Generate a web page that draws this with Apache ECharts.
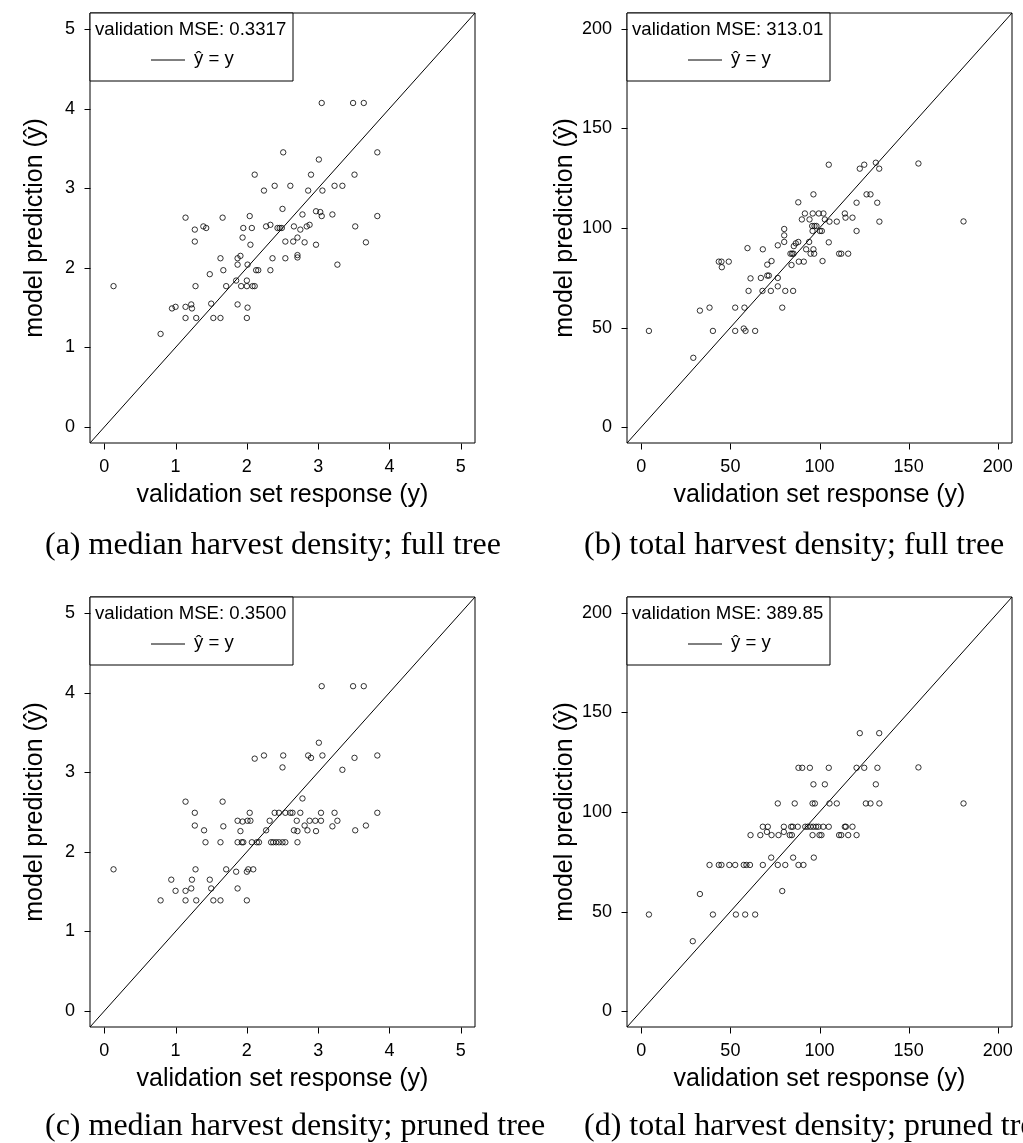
<!DOCTYPE html>
<html>
<head>
<meta charset="utf-8">
<script src="https://cdn.jsdelivr.net/npm/echarts@6/dist/echarts.min.js"></script>
<style>
  html, body { margin: 0; padding: 0; background: #fff; }
  #chart { width: 1023px; height: 1143px; }
</style>
</head>
<body>
<div id="chart"></div>
<script>
// Validation-set predictions of the regression trees: [observed y, predicted ŷ]
const medianFullPts = [
  [2.11, 3.17], [1.14, 2.63], [1.66, 2.63], [2.04, 2.65],
  [1.27, 2.48], [1.39, 2.52], [1.43, 2.50], [1.95, 2.50], [2.07, 2.50],
  [1.27, 2.33], [1.94, 2.38], [2.05, 2.29],
  [1.63, 2.12], [1.87, 2.12], [1.91, 2.15],
  [1.67, 1.97], [1.87, 2.04], [2.01, 2.04],
  [1.48, 1.92], [2.13, 1.97], [2.16, 1.97],
  [0.13, 1.77], [1.28, 1.77], [1.71, 1.77], [1.85, 1.84], [2.00, 1.84],
  [1.92, 1.77], [2.00, 1.77], [2.08, 1.77], [2.11, 1.77],
  [0.95, 1.49], [1.00, 1.51], [1.14, 1.51], [1.22, 1.54], [1.23, 1.49],
  [1.50, 1.55], [1.87, 1.54], [2.01, 1.50],
  [1.14, 1.37], [1.29, 1.37], [1.53, 1.37], [1.63, 1.37], [2.00, 1.37],
  [0.79, 1.17],
  [3.05, 4.07], [3.49, 4.07], [3.64, 4.07],
  [2.51, 3.45], [3.83, 3.45], [3.01, 3.36],
  [2.90, 3.17], [3.51, 3.17],
  [2.24, 2.97], [2.39, 3.03], [2.61, 3.03], [2.86, 2.97], [3.06, 2.97], [3.23, 3.03], [3.34, 3.03],
  [2.50, 2.74], [2.78, 2.67], [2.97, 2.71], [3.03, 2.70], [3.05, 2.65], [3.20, 2.67], [3.83, 2.65],
  [2.27, 2.52], [2.33, 2.54], [2.43, 2.50], [2.46, 2.50], [2.49, 2.50], [2.66, 2.52],
  [2.75, 2.48], [2.84, 2.52], [2.88, 2.54], [3.52, 2.52],
  [2.54, 2.33], [2.65, 2.33], [2.71, 2.38], [2.81, 2.32], [2.97, 2.29], [3.67, 2.32],
  [2.36, 2.12], [2.54, 2.12], [2.71, 2.16], [2.71, 2.13],
  [2.33, 1.97], [3.27, 2.04]
];

const totalFullPts = [
  [4.3, 48.3], [29.2, 34.8], [32.9, 58.5], [38.3, 60.0], [40.2, 48.3],
  [43.5, 83.1], [45.0, 83.1], [45.2, 80.3], [49.1, 83.1],
  [52.7, 60.0], [57.9, 60.0],
  [52.7, 48.3], [57.5, 49.5], [58.5, 48.3], [63.9, 48.3],
  [59.6, 89.9], [61.3, 74.7], [60.2, 68.4],
  [67.1, 74.9], [68.2, 89.3], [68.0, 68.4],
  [70.7, 81.6], [70.7, 76.1], [71.6, 76.1], [73.1, 83.4], [72.7, 68.4],
  [76.6, 91.3], [76.6, 74.9], [76.6, 70.7], [79.1, 60.0],
  [80.2, 99.5], [80.2, 96.3], [80.2, 93.0], [80.8, 68.4],
  [83.7, 87.1], [84.6, 87.1], [85.4, 87.1], [85.6, 90.9], [86.7, 92.3], [88.1, 93.0],
  [84.3, 81.4], [85.2, 68.4], [88.4, 83.1], [91.2, 83.1],
  [88.1, 112.9], [90.1, 104.3], [91.8, 107.3], [94.4, 104.3],
  [96.2, 107.3], [99.6, 107.3], [102.2, 107.3],
  [96.6, 116.9],
  [95.9, 101.0], [97.2, 101.0], [98.3, 101.0], [96.1, 98.5], [100.2, 98.5], [101.3, 98.5],
  [103.0, 104.3], [105.6, 103.2], [109.7, 103.2],
  [94.2, 93.0], [92.5, 89.3], [96.6, 89.3], [95.0, 87.1], [97.0, 87.1],
  [105.2, 92.8], [101.7, 83.4],
  [111.0, 87.1], [112.2, 87.1], [116.1, 87.1],
  [105.2, 131.8],
  [114.2, 107.3], [114.6, 105.2], [118.5, 105.2],
  [120.8, 112.7], [120.8, 98.5],
  [122.6, 129.8], [125.1, 131.8],
  [126.4, 116.9], [128.6, 116.9],
  [131.6, 132.8], [133.5, 129.8], [132.4, 112.7], [133.6, 103.2],
  [155.5, 132.4], [180.8, 103.3]
];

const medianPrunedPts = [
  [2.11, 3.17], [1.14, 2.63], [1.66, 2.63],
  [1.27, 2.49], [2.04, 2.49],
  [1.27, 2.33], [1.40, 2.27], [1.67, 2.32],
  [1.87, 2.39], [1.94, 2.38], [2.01, 2.39], [2.05, 2.39],
  [1.91, 2.26],
  [1.42, 2.12], [1.63, 2.12], [1.87, 2.12], [1.93, 2.12], [1.95, 2.12], [2.07, 2.12], [2.14, 2.12],
  [0.13, 1.78], [1.28, 1.78], [1.71, 1.78], [1.85, 1.75],
  [2.00, 1.75], [2.02, 1.78], [2.09, 1.78],
  [0.94, 1.65], [1.23, 1.65], [1.48, 1.65],
  [1.00, 1.51], [1.14, 1.51], [1.22, 1.54], [1.50, 1.54], [1.87, 1.54],
  [0.79, 1.39], [1.14, 1.39], [1.29, 1.39], [1.53, 1.39], [1.63, 1.39], [2.00, 1.39],
  [3.05, 4.08], [3.49, 4.08], [3.64, 4.08],
  [3.01, 3.37],
  [2.24, 3.21], [2.51, 3.21], [2.50, 3.06], [2.86, 3.21], [2.90, 3.18], [3.06, 3.21],
  [3.34, 3.03], [3.51, 3.18], [3.83, 3.21],
  [2.78, 2.67],
  [2.39, 2.49], [2.45, 2.49], [2.54, 2.49], [2.61, 2.49], [2.64, 2.49], [2.75, 2.49],
  [3.04, 2.49], [3.23, 2.49], [3.83, 2.49],
  [2.32, 2.39], [2.70, 2.39], [2.88, 2.39], [2.96, 2.39], [3.04, 2.39], [3.27, 2.39],
  [2.81, 2.33], [3.20, 2.32], [3.67, 2.33],
  [2.27, 2.27], [2.66, 2.27], [2.71, 2.26], [2.85, 2.27], [2.97, 2.26], [3.52, 2.27],
  [2.17, 2.12],
  [2.34, 2.12], [2.37, 2.12], [2.41, 2.12], [2.45, 2.12], [2.50, 2.12], [2.54, 2.12], [2.71, 2.12]
];

const totalPrunedPts = [
  [4.3, 48.5], [28.9, 35.1], [32.9, 58.8], [40.2, 48.5],
  [38.3, 73.4], [43.5, 73.4], [45.0, 73.4], [49.4, 73.4], [52.7, 73.4], [57.5, 73.4],
  [59.0, 73.4], [61.0, 73.4], [68.2, 73.4], [76.6, 73.4], [80.8, 73.4], [88.2, 73.4], [91.0, 73.4],
  [72.9, 77.1], [85.2, 77.1], [96.8, 77.1],
  [53.1, 48.5], [58.3, 48.5], [63.9, 48.5],
  [79.1, 60.3],
  [61.3, 88.4], [66.8, 88.4], [73.1, 88.4], [77.0, 88.4], [83.3, 88.4], [84.5, 88.4],
  [96.1, 88.4], [100.0, 88.4], [101.1, 88.4], [111.0, 88.4], [112.2, 88.4], [116.1, 88.4], [120.8, 88.4],
  [70.5, 90.0], [80.0, 90.0],
  [68.2, 92.6], [71.0, 92.6], [80.0, 92.6], [84.1, 92.6], [85.0, 92.6], [87.8, 92.6],
  [92.0, 92.6], [93.4, 92.6], [95.0, 92.6], [96.5, 92.6], [98.1, 92.6], [99.4, 92.6],
  [102.1, 92.6], [105.2, 92.6], [114.2, 92.6], [114.8, 92.6], [118.5, 92.6],
  [76.6, 104.3], [86.1, 104.3], [96.1, 104.3], [97.4, 104.3], [105.6, 104.3], [109.7, 104.3],
  [126.0, 104.3], [128.6, 104.3], [133.6, 104.3],
  [96.6, 113.9], [103.0, 113.9], [131.6, 113.9],
  [88.2, 122.2], [90.3, 122.2], [94.6, 122.2], [105.2, 122.2], [120.8, 122.2], [125.1, 122.2], [132.5, 122.2],
  [122.6, 139.6], [133.5, 139.6],
  [155.5, 122.4], [180.8, 104.3]
];

const medianTicks = [0, 1, 2, 3, 4, 5];
const totalTicks = [0, 50, 100, 150, 200];
const mseValues = ['0.3317', '313.01', '0.3500', '389.85'];
const captions = [
  '(a) median harvest density; full tree',
  '(b) total harvest density; full tree',
  '(c) median harvest density; pruned tree',
  '(d) total harvest density; pruned tree'
];
const xTitle = 'validation set response (y)';
const yTitle = 'model prediction (\u0177)';

// Page layout (pixels)
const COL_LEFT = [90, 627];
const ROW_TOP = [13, 597];
const PLOT_W = 385, PLOT_H = 430;
const TICK_LEN = 6;
const CAPTION_X = [45, 584];
const CAPTION_Y = [546, 1127];
const SANS = '"Liberation Sans", Arial, Helvetica, sans-serif';
const SERIF = '"Liberation Serif", "Times New Roman", serif';

// R-style axis limits: data range widened by 4% on each side
function padRange(ticks) {
  const lo = ticks[0], hi = ticks[ticks.length - 1], d = (hi - lo) * 0.04;
  return [lo - d, hi + d];
}

const panels = [
  { pts: medianFullPts, ticks: medianTicks, mse: mseValues[0], caption: captions[0], col: 0, row: 0 },
  { pts: totalFullPts, ticks: totalTicks, mse: mseValues[1], caption: captions[1], col: 1, row: 0 },
  { pts: medianPrunedPts, ticks: medianTicks, mse: mseValues[2], caption: captions[2], col: 0, row: 1 },
  { pts: totalPrunedPts, ticks: totalTicks, mse: mseValues[3], caption: captions[3], col: 1, row: 1 }
];

const grid = [], xAxis = [], yAxis = [], series = [];

panels.forEach((p, i) => {
  const [lo, hi] = padRange(p.ticks);
  grid.push({
    left: COL_LEFT[p.col], top: ROW_TOP[p.row], width: PLOT_W, height: PLOT_H,
    show: true, borderColor: '#000', borderWidth: 1, backgroundColor: 'transparent'
  });
  const labelCommon = {
    customValues: p.ticks, color: '#000', fontSize: 18, fontFamily: SANS, margin: 15
  };
  xAxis.push({
    type: 'value', gridIndex: i, min: lo, max: hi, position: 'bottom',
    axisLine: { show: false, onZero: false }, splitLine: { show: false },
    axisTick: { show: false }, axisLabel: labelCommon,
    name: xTitle, nameLocation: 'middle', nameGap: 40,
    nameTextStyle: { color: '#000', fontSize: 25, fontFamily: SANS }
  });
  yAxis.push({
    type: 'value', gridIndex: i, min: lo, max: hi, position: 'left',
    axisLine: { show: false, onZero: false }, splitLine: { show: false },
    axisTick: { show: false }, axisLabel: labelCommon,
    name: yTitle, nameLocation: 'middle', nameGap: 42, nameRotate: 90,
    nameTextStyle: { color: '#000', fontSize: 25, fontFamily: SANS }
  });
  // reference line y = x across the whole plotting region
  series.push({
    type: 'line', xAxisIndex: i, yAxisIndex: i,
    data: [[lo, lo], [hi, hi]], symbol: 'none', silent: true,
    lineStyle: { color: '#000', width: 1 }, z: 2
  });
  series.push({
    type: 'scatter', xAxisIndex: i, yAxisIndex: i, data: p.pts,
    symbol: 'circle', symbolSize: 5.4, silent: true, z: 3,
    itemStyle: { color: 'rgba(0,0,0,0)', borderColor: '#000', borderWidth: 1 }
  });
});

const chart = echarts.init(document.getElementById('chart'), null, { renderer: 'canvas' });
chart.setOption({
  animation: false,
  backgroundColor: '#fff',
  grid: grid, xAxis: xAxis, yAxis: yAxis, series: series
});

// Legends, captions and outward tick marks (tick positions come from each grid's scales)
const graphic = [];
panels.forEach((p, i) => {
  const [lo] = padRange(p.ticks);
  const left = COL_LEFT[p.col], top = ROW_TOP[p.row];
  const st = { stroke: '#000', lineWidth: 1 };
  p.ticks.forEach(v => {
    const bx = Math.round(chart.convertToPixel({ gridIndex: i }, [v, lo])[0]) + 0.5;
    const ly = Math.round(chart.convertToPixel({ gridIndex: i }, [lo, v])[1]) + 0.5;
    const by = top + PLOT_H + 0.5, lx = left + 0.5;
    graphic.push({ type: 'line', z: 10, shape: { x1: bx, y1: by, x2: bx, y2: by + TICK_LEN }, style: st });
    graphic.push({ type: 'line', z: 10, shape: { x1: lx - TICK_LEN, y1: ly, x2: lx, y2: ly }, style: st });
  });
  graphic.push({
    type: 'group', x: left, y: top, z: 10,
    children: [
      { type: 'rect', shape: { x: 0, y: 0, width: 203, height: 68 },
        style: { fill: '#fff', stroke: '#000', lineWidth: 1 } },
      { type: 'text', x: 5, y: 17,
        style: { text: 'validation MSE: ' + p.mse, fill: '#000', font: '18.6px ' + SANS, verticalAlign: 'middle' } },
      { type: 'line', shape: { x1: 61, y1: 47, x2: 95, y2: 47 }, style: st },
      { type: 'text', x: 104, y: 46,
        style: { text: '\u0177 = y', fill: '#000', font: '18.6px ' + SANS, verticalAlign: 'middle' } }
    ]
  });
  graphic.push({
    type: 'text', x: CAPTION_X[p.col], y: CAPTION_Y[p.row], z: 10,
    style: { text: p.caption, fill: '#000', font: '32px ' + SERIF, verticalAlign: 'middle' }
  });
});
chart.setOption({ graphic: graphic });
</script>
</body>
</html>
